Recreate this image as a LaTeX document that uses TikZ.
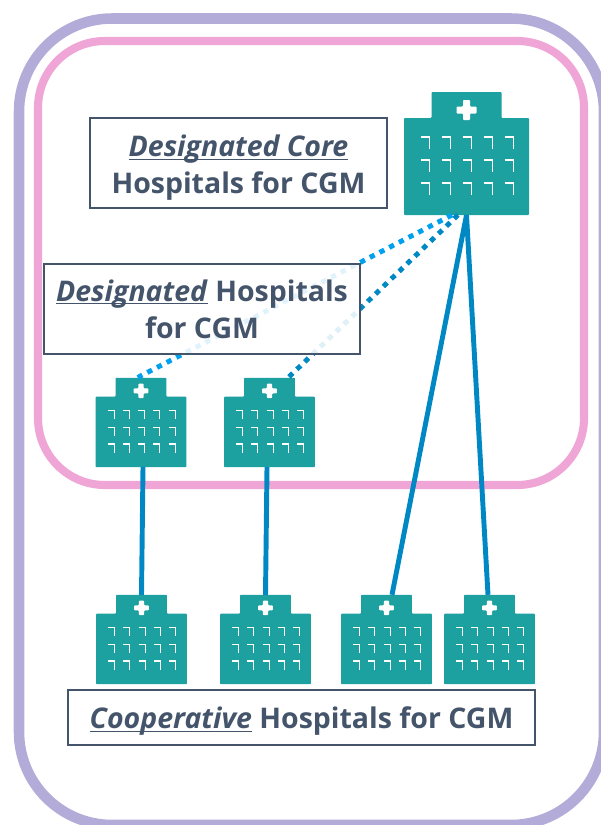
\documentclass[tikz,border=0pt]{standalone}
\usepackage{fontspec}
\setmainfont{Open Sans}
\definecolor{framelav}{HTML}{B4ACD8}
\definecolor{framepink}{HTML}{EFA6D6}
\definecolor{hospteal}{HTML}{1CA0A0}
\definecolor{linkblue}{HTML}{0088C4}
\definecolor{linksky}{HTML}{00A0F0}
\definecolor{labelslate}{HTML}{44546A}
\newcommand{\underword}[1]{\vphantom{Hg}\underline{\smash{\textit{#1}}}}
\tikzset{
    hospitalspot/.style={inner sep=0pt,outer sep=0pt},
    labelbox/.style={draw=labelslate,line width=1pt,fill=white,fill opacity=0.88,text opacity=1,
        text=labelslate,align=center,inner sep=0pt,font=\fontsize{16.2}{21}\selectfont\bfseries},
    solidlink/.style={linkblue,line width=2.8pt},
    dotlink/.style={line width=2.8pt,dash pattern=on 3pt off 3.2pt}
}
% hospital icon: name, x, y, scale
\newcommand{\hospital}[4]{
    \node[hospitalspot,minimum width=#4*2.5cm,minimum height=#4*2.46cm] (#1) at (#2,#3) {};
    \begin{scope}[shift={(#1)},scale=#4]
        \fill[hospteal,rounded corners=0.5pt] (-62.5,61.5)--(-62.5,-35.5)--(-35,-35.5)--(-35,-61.5)
            --(35,-61.5)--(35,-35.5)--(62.5,-35.5)--(62.5,61.5)--cycle;
        \fill[white,rounded corners=0.5pt] (-3.5,-53.5)--(3.5,-53.5)--(3.5,-47)--(10,-47)--(10,-40)--(3.5,-40)
            --(3.5,-33.5)--(-3.5,-33.5)--(-3.5,-40)--(-10,-40)--(-10,-47)--(-3.5,-47)--cycle;
        \foreach \wx in {-46,-25,-4,17,38}
            \foreach \wy in {-16.5,6.5,29.5}
                \draw[white,line width=#4*0.9pt] (\wx,\wy)--++(9,0)--++(0,12);
    \end{scope}
}

\begin{document}
\begin{tikzpicture}[x=0.02cm,y=-0.02cm]
    \useasboundingbox (0,0) rectangle (601,825);
    % frames
    \draw[framelav,line width=6pt,rounded corners=53pt] (19,18.5) rectangle (604,825);
    \draw[framepink,line width=4.6pt,rounded corners=38pt] (38,41) rectangle (584,485);

    % hospitals
    \hospital{core}{466.5}{153.5}{1}
    \hospital{desA}{141}{422.5}{0.727}
    \hospital{desB}{269.5}{422.5}{0.727}
    \hospital{coopA}{141.5}{639.5}{0.727}
    \hospital{coopB}{265.5}{639.5}{0.727}
    \hospital{coopC}{386.5}{639.5}{0.727}
    \hospital{coopD}{489.5}{639.5}{0.727}

    % links
    \draw[solidlink] ([xshift=0.04cm]desA.south)--(coopA.north);
    \draw[solidlink] ([xshift=-0.05cm]desB.south)--(coopB.north);
    \draw[solidlink] (core.south)--([xshift=0.11cm]coopC.north);
    \draw[solidlink] (core.south)--([xshift=-0.03cm]coopD.north);
    \draw[dotlink,linksky] ([xshift=-0.29cm]core.south)--([xshift=-0.08cm]desA.north);
    \draw[dotlink,linkblue] ([xshift=-0.17cm]core.south)--([xshift=0.37cm]desB.north);

    % labels
    \node[labelbox,minimum width=5.94cm,minimum height=1.8cm] (corelabel) at (238.5,163)
        {\rule{0pt}{18pt}\underword{Designated Core}\\Hospitals for CGM};
    \node[labelbox,minimum width=6.32cm,minimum height=1.8cm] (deslabel) at (202,309)
        {\underword{Designated} Hospitals\\for CGM};
    \node[labelbox,minimum width=9.34cm,minimum height=1.1cm,text depth=0pt] (cooplabel) at (301.5,717.5)
        {\underword{Cooperative} Hospitals for CGM};
\end{tikzpicture}
\end{document}
